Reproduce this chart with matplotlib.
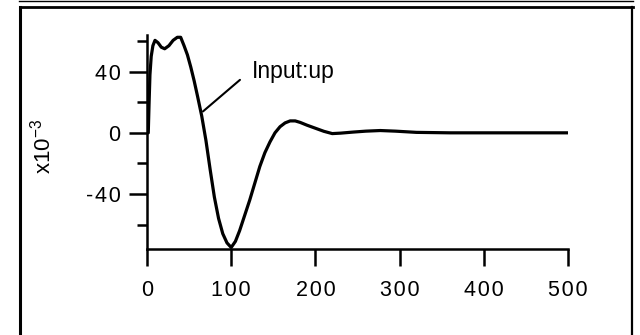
import numpy as np
import matplotlib
matplotlib.use("Agg")
import matplotlib.pyplot as plt
from matplotlib.lines import Line2D
from matplotlib.ticker import FuncFormatter

# response curve (time vs value, units x10^-3)
t = [0, 1.5, 2.5, 3.5, 5, 7, 9.5, 13, 17, 21, 26, 31, 36, 40, 44, 48, 52, 56, 60,
     65, 70, 75, 80, 85, 90, 95, 100, 105, 110, 116, 122, 128, 134, 140, 146,
     152, 158, 164, 170, 176, 182, 190, 200, 210, 220, 230, 245, 260, 277, 295,
     320, 360, 420, 500]
resp = [0, 0, 20, 38, 50, 57, 60.5, 59, 56, 55, 57, 60.5, 62.5, 62.5, 57, 51, 43, 34, 24,
        11, -5, -24, -42, -56, -66, -72, -75, -71, -64, -54, -44, -33, -22, -13, -6,
        0, 4, 6.5, 7.8, 7.8, 6.8, 5, 3, 1, -0.5, -0.2, 0.5, 1.1, 1.5, 1.1,
        0.3, 0, 0, 0]

xticks = [0, 100, 200, 300, 400, 500]
yticks = [-40, 0, 40]
yminor = [-60, -20, 20, 60]
label_text = "Input:up"

plt.rcParams['font.family'] = ['Liberation Sans', 'DejaVu Sans']
plt.rcParams['axes.unicode_minus'] = False
plt.rcParams['mathtext.fontset'] = 'custom'
plt.rcParams['mathtext.rm'] = 'Liberation Sans'
plt.rcParams['mathtext.it'] = 'Liberation Sans'

# the scan's labels are set with slightly loose letter spacing
spaced = FuncFormatter(lambda v, pos: "\u200a".join(f"{v:g}"))

fig = plt.figure(figsize=(6.4, 3.35), dpi=100)
ax = fig.add_axes([147/640, 1-249/335, 421/640, 214/335])

ax.plot(t, resp, color='black', lw=2.3, solid_capstyle='round')

ax.set_xlim(0, 500)
ax.set_ylim(-76, 64)
ax.set_xticks(xticks)
ax.set_yticks(yticks)
ax.set_yticks(yminor, minor=True)
ax.xaxis.set_minor_locator(plt.NullLocator())
ax.xaxis.set_major_formatter(spaced)
ax.yaxis.set_major_formatter(spaced)

for s in ['top', 'right']:
    ax.spines[s].set_visible(False)
for s in ['left', 'bottom']:
    ax.spines[s].set_linewidth(1.8)

ax.tick_params(axis='y', which='major', length=13, width=1.8, labelsize=15.5, pad=6)
ax.tick_params(axis='y', which='minor', length=7, width=1.8)
ax.tick_params(axis='x', which='major', length=12, width=1.8, labelsize=15.5, pad=10)

ax.set_ylabel(r'x10$^{-3}$', fontsize=16)
ax.yaxis.set_label_coords(-0.218, 0.48)

ax.annotate(label_text, xy=(66.5, 14), xytext=(125, 40), fontsize=16.5,
            va='center', ha='left',
            arrowprops=dict(arrowstyle='-', color='black', lw=1.5,
                            shrinkA=9, shrinkB=0, relpos=(0, 0.6)),
            annotation_clip=False)

# outer frame of the scanned panel
W, H = 640, 335
def fl(x0, y0, x1, y1, lw):
    fig.add_artist(Line2D([x0/W, x1/W], [1-y0/H, 1-y1/H], color='black', lw=lw,
                          transform=fig.transFigure))
fl(20, 7, 633, 7, 2.0)
fl(20, 7, 20, 335, 2.2)
fl(632, 7, 632, 335, 1.6)
fl(19, 0.5, 633, 0.5, 1.0)

fig.savefig("out.png", dpi=100)
